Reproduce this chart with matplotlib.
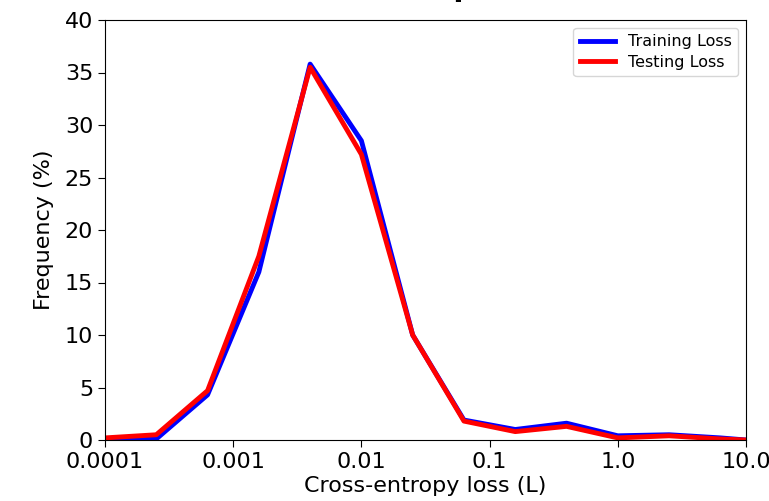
import numpy as np
import matplotlib
matplotlib.use("Agg")
import matplotlib.pyplot as plt

# loss bins (log spaced, 0.4 decade steps) and frequencies in %
loss_bins = [1e-4, 10**-3.6, 10**-3.2, 10**-2.8, 10**-2.4, 1e-2, 10**-1.6,
             10**-1.2, 10**-0.8, 10**-0.4, 1.0, 10**0.4, 10**0.8, 10.0]
train_freq = [0.1, 0.1, 4.3, 16.0, 35.8, 28.5, 10.0, 1.9, 1.0, 1.6, 0.4, 0.5, 0.2, 0.0]
test_freq = [0.2, 0.5, 4.7, 17.5, 35.5, 27.2, 10.0, 1.8, 0.8, 1.3, 0.2, 0.4, 0.1, 0.0]

xtick_vals = [1e-4, 1e-3, 1e-2, 1e-1, 1.0, 10.0]
xtick_labels = ["0.0001", "0.001", "0.01", "0.1", "1.0", "10.0"]

W, H = 769, 501
fig = plt.figure(figsize=(W / 100, H / 100), dpi=100)
ax = fig.add_axes([105 / W, (H - 440) / H, 641 / W, 420 / H])

ax.plot(loss_bins, train_freq, color="blue", lw=3.5, label="Training Loss")
ax.plot(loss_bins, test_freq, color="red", lw=3.5, label="Testing Loss")

ax.set_xscale("log")
ax.set_xlim(1e-4, 10)
ax.set_ylim(0, 40)
ax.set_xticks(xtick_vals)
ax.set_xticklabels(xtick_labels)
ax.xaxis.set_minor_locator(matplotlib.ticker.NullLocator())
ax.set_yticks(range(0, 41, 5))
ax.tick_params(labelsize=16, length=5)

ax.set_xlabel("Cross-entropy loss (L)", fontsize=16, labelpad=3)
ax.set_ylabel("Frequency (%)", fontsize=16, labelpad=8)

ax.legend(loc="upper right", fontsize=11.5, handlelength=2.2,
          labelspacing=0.35, borderaxespad=0.5)

# title is cut off at the top of the image, only descenders show
fig.text(132 / W, 1 + 3.5 / H, "(a) Model Loss Comparison", fontsize=21,
         fontweight="bold", ha="left", va="baseline")

fig.savefig("out.png", dpi=100)
